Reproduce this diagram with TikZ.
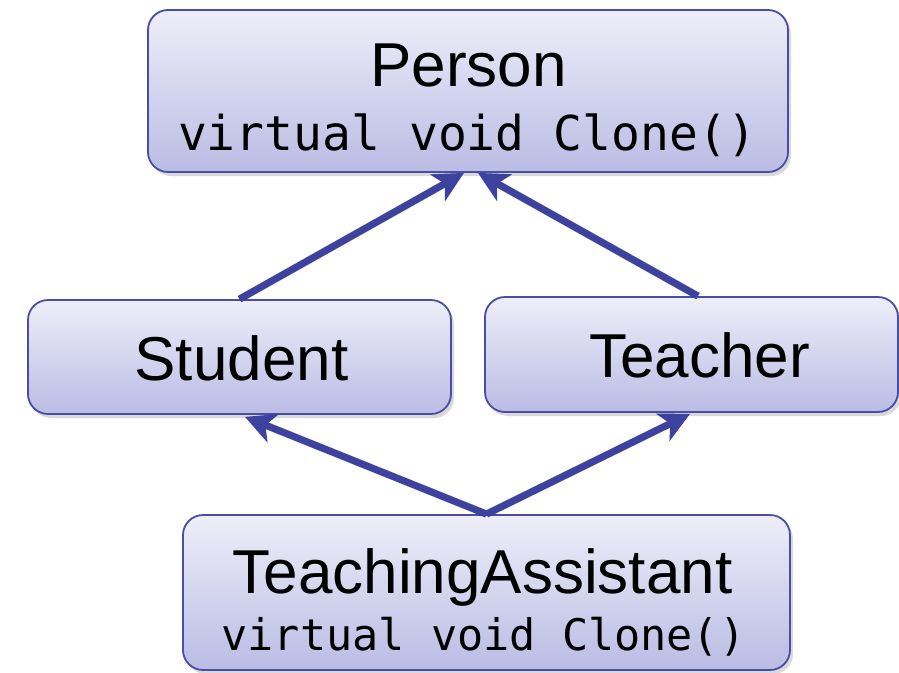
\documentclass[tikz,border=0pt]{standalone}
\usepackage{fontspec}
\setmainfont{Liberation Sans}
\newfontfamily\codefont{DejaVu Sans Mono}
\usetikzlibrary{arrows.meta,shadows,calc}

\definecolor{boxtop}{RGB}{238,238,249}
\definecolor{boxbot}{RGB}{186,188,228}
\definecolor{boxline}{RGB}{72,77,166}
\definecolor{arrowblue}{RGB}{60,66,158}

\tikzset{
  classbox/.style={draw=boxline, line width=1.8pt, rounded corners=20pt,
    top color=boxtop, bottom color=boxbot, inner sep=0pt,
    drop shadow={opacity=0.3, shadow xshift=3pt, shadow yshift=-4pt}},
  classname/.style={anchor=base, inner sep=0pt, font=\fontsize{62}{62}\selectfont},
  method/.style={anchor=base, inner sep=0pt, font=\codefont\fontsize{48}{48}\selectfont},
  smallmethod/.style={method, font=\codefont\fontsize{43.5}{43.5}\selectfont},
  inherit/.style={draw=arrowblue, line width=7pt,
    -{Stealth[length=30pt, width=30pt, inset=8pt]}},
  inheritshadow/.style={draw=black, opacity=0.12, line width=8pt,
    -{Stealth[length=30pt, width=30pt, inset=8pt]}}
}

\begin{document}
\begin{tikzpicture}[x=1pt, y=-1pt]
  \useasboundingbox (0,0) rectangle (899,672);

  % class boxes
  \node[classbox, minimum width=640pt, minimum height=162pt] (person) at (468,91) {};
  \node[classbox, minimum width=423pt, minimum height=114pt] (student) at (239.5,357) {};
  \node[classbox, minimum width=413pt, minimum height=115pt] (teacher) at (691.5,354.5) {};
  \node[classbox, minimum width=607pt, minimum height=155pt] (ta) at (486.5,592.5) {};

  % class names and members
  \node[classname] (personname) at (468.5,86) {Person};
  \node[method] (personclone) at (467,150) {virtual void Clone()};
  \node[classname] (studentname) at (241.5,380) {Student};
  \node[classname] (teachername) at (699.5,377) {Teacher};
  \node[classname] (taname) at (482.5,593) {TeachingAssistant};
  \node[smallmethod] (taclone) at (483.5,650) {virtual void Clone()};

  % inheritance arrows (soft shadow first)
  \begin{scope}[shift={(3,4)}]
    \draw[inheritshadow] (student.north) -- ($(person.south)+(-4,0)$);
    \draw[inheritshadow] ($(teacher.north)+(6.5,0)$) -- ($(person.south)+(10,0)$);
    \draw[inheritshadow] (ta.north) -- ($(student.south)+(5.5,2)$);
    \draw[inheritshadow] (ta.north) -- ($(teacher.south)+(-1.5,1)$);
  \end{scope}
  \draw[inherit] (student.north) -- ($(person.south)+(-4,0)$);
  \draw[inherit] ($(teacher.north)+(6.5,0)$) -- ($(person.south)+(10,0)$);
  \draw[inherit] (ta.north) -- ($(student.south)+(5.5,2)$);
  \draw[inherit] (ta.north) -- ($(teacher.south)+(-1.5,1)$);
\end{tikzpicture}
\end{document}
